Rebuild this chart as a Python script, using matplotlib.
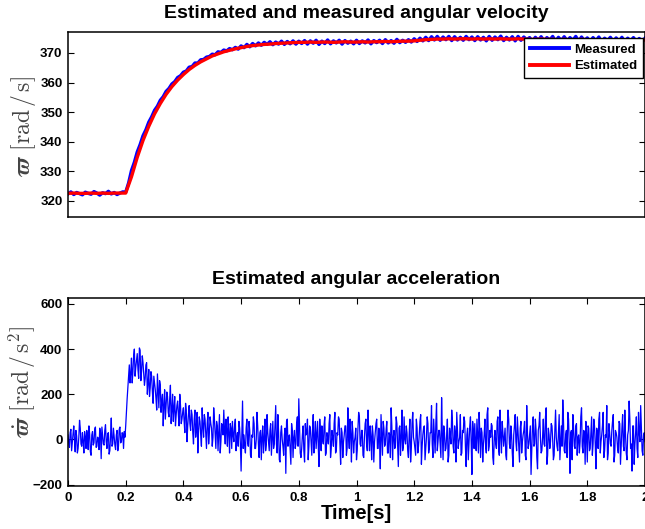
import matplotlib

matplotlib.use("Agg")
import matplotlib.pyplot as plt
import numpy as np

# measured angular velocity, sampled every 0.01 s from 0 to 2 s
vel_measured = [
    322.3, 323.0, 322.1, 322.8, 322.4, 322.0, 322.9, 322.5, 322.2, 323.1, 322.6,
    321.9, 322.7, 322.4, 323.2, 322.3, 322.8, 322.1, 322.6, 323.0, 322.9,
    326.0, 330.2, 333.0, 336.5, 339.0, 342.0, 344.0, 346.6, 348.4, 350.6,
    352.0, 354.0, 355.2, 357.0, 358.0, 359.5, 360.3, 361.7, 362.3, 363.5,
    363.9, 365.2, 365.4, 366.6, 366.6, 367.7, 367.8, 368.6, 368.8, 369.6,
    369.4, 370.4, 370.2, 371.0, 370.7, 371.5, 371.1, 371.9, 371.3, 372.4,
    371.8, 372.9, 372.1, 373.2, 372.4, 373.4, 372.6, 373.6, 372.9, 373.8,
    372.8, 373.7, 373.0, 374.0, 372.9, 373.9, 373.1, 374.1, 373.0, 374.0,
    373.2, 374.2, 373.0, 374.1, 373.3, 374.3, 372.9, 374.0, 373.2, 374.4,
    373.1, 374.1, 373.4, 374.3, 373.0, 374.2, 373.3, 374.0, 373.1, 374.3,
    373.2, 374.1, 373.4, 374.4, 373.1, 374.2, 373.5, 374.3, 373.2, 374.5,
    373.4, 374.2, 373.3, 374.6, 373.5, 374.3, 373.6, 374.5, 373.7, 374.8,
    373.9, 375.0, 374.1, 375.3, 374.2, 375.5, 374.4, 375.6, 374.3, 375.4,
    374.5, 375.6, 374.2, 375.5, 374.4, 375.3, 374.3, 375.6, 374.5, 375.4,
    374.2, 375.5, 374.4, 375.3, 374.1, 375.6, 374.3, 375.4, 374.5, 375.7,
    374.2, 375.3, 374.4, 375.5, 374.1, 375.6, 374.3, 375.4, 374.5, 375.2,
    374.0, 375.3, 374.3, 375.5, 374.1, 375.2, 374.4, 375.6, 374.0, 375.3,
    374.2, 375.5, 374.1, 375.2, 374.3, 375.6, 374.0, 375.4, 374.2, 375.1,
    373.9, 375.2, 374.1, 375.4, 373.8, 375.0, 374.2, 375.3, 373.9, 375.1,
    374.0, 375.3, 373.8, 375.0, 374.1, 375.2, 373.9, 374.9, 374.0, 375.0,
]

# estimated angular velocity, sampled every 0.02 s from 0 to 2 s
vel_estimated = [
    322.5, 322.6, 322.5, 322.5, 322.6, 322.5, 322.6, 322.5, 322.6, 322.6, 322.6,
    328.1, 334.7, 340.4, 345.2, 349.4, 352.9, 356.0, 358.6, 360.8, 362.7,
    364.4, 365.8, 367.0, 368.0, 369.0, 369.7, 370.4, 370.9, 371.4, 371.8,
    372.2, 372.5, 372.7, 372.9, 373.0, 373.2, 373.3, 373.4, 373.5, 373.6,
    373.6, 373.7, 373.6, 373.7, 373.7, 373.6, 373.7, 373.8, 373.7, 373.7,
    373.8, 373.7, 373.8, 373.8, 373.9, 373.8, 373.9, 374.0, 374.0, 374.1,
    374.3, 374.5, 374.6, 374.7, 374.7, 374.8, 374.7, 374.8, 374.8, 374.7,
    374.8, 374.7, 374.8, 374.7, 374.8, 374.7, 374.7, 374.8, 374.7, 374.6,
    374.6, 374.7, 374.6, 374.6, 374.5, 374.6, 374.5, 374.5, 374.6, 374.5,
    374.5, 374.4, 374.5, 374.4, 374.5, 374.4, 374.4, 374.5, 374.4, 374.4,
]

# estimated angular acceleration at t = 0, 0.005, ..., 2 s
accel_grid = [
    # 0 - 0.195 s
    20, -35, 45, -10, 60, -55, 15, -40, 85, -20, 30, -60, 10, 40, -45, 25, -70, 35, -15, 55,
    -30, 5, 50, -85, 20, -25, 65, -40, 30, -50, 95, -20, 15, -45, 40, -30, 55, -10, 25, 35,
    # 0.2 - 0.605 s
    60, 180, 280, 250, 360, 300, 400, 320, 380, 270, 395, 300, 340, 240, 330, 200, 310, 230, 280, 160,
    250, 180, 290, 140, 240, 170, 60, 220, 150, 190, 100, 240, 130, 80, 190, 110, 170, 60, 150, 90,
    140, 30, 130, 60, 150, 40, 110, -20, 130, 50, -60, 100, 20, 140, 10, 90, -40, 120, 30, 70,
    -30, 140, 20, 80, -50, 110, -10, 60, 130, -20, 40, 100, -60, 50, 80, -10, 90, 10, -30, 50,
    -140, 170,
    # 0.61 - 2.0 s
    20, -60, 90, -30, 40, -80, 10, 70, -40, 120, -20, 30, -90, 60, 0, -50, 110, -10, 40, -70,
    80, -20, 150, -60, 30, -100, 60, -30, 20, -150, 90, 10, -50, 70, -80, 40, -20, 100, 180, -60,
    -40, 60, -100, 20, 90, -30, 50, -70, 110, 0, -40, 80, -120, 30, 60, -20, 100, -60, 10, 70,
    -80, 40, -30, 120, -50, 20, 90, -110, 30, -10, 60, -70, 140, -40, 20, 80, -60, 10, -90, 50,
    100, -30, 40, -80, 70, -20, 130, -50, 10, 60, -100, 30, 90, -40, 0, 110, -70, 50, -20, 80,
    -60, 20, 140, -90, 40, -30, 70, -120, 60, 10, -50, 100, -20, 30, -80, 90, -40, 120, -10, -70,
    50, -30, 80, -110, 20, 60, -40, 100, -60, 30, 150, -80, 10, 70, -50, 40, -20, 185, -90, 30,
    -40, 90, -70, 20, 130, -30, 60, -100, 40, -10, 110, -60, 30, 80, -120, 50, -20, 100, -155, 40,
    70, -50, 20, 120, -80, 30, -20, 90, -60, 140, -30, 10, 60, -110, 40, -40, 100, -70, 20, 80,
    -30, 50, -90, 130, -20, 60, -60, 20, 110, -50, 30, -100, 80, -10, 40, -70, 150, -40, 20, -155,
    60, -30, 90, -80, 40, 120, -60, 10, -20, 100, -110, 50, -40, 70, 0, -70, 130, -30, 30, -90,
    60, 175, -50, 20, -80, 90, -150, 40, 110, -30, 60, -70, 20, -10, 140, -60, 30, 80, -100, 50,
    -40, 100, -20, 60, -130, 30, 90, -60, 20, 120, -50, 10, -90, 70, -20, 40, 110, -70, 30, -40,
    80, -110, 50, -30, 130, -60, 20, 170, -40, -140, 60, -20, 100, -80, 30, 150, -50, 20, -10,
]

# estimated angular acceleration at the half steps t = 0.0025, 0.0075, ..., 1.9975 s
accel_half = [
    # 0.0025 - 0.1975 s
    -15, 30, -50, 25, -5, 40, -60, 10, 50, -30, -10, 35, -40, 15, 60, -55, 20, -25, 45, -35,
    10, -45, 30, 55, -20, 40, -10, 25, -65, 15, -30, 50, -25, 20, -50, 45, -15, 30, -40, 10,
    # 0.2025 - 0.6075 s
    120, 230, 330, 290, 250, 370, 280, 350, 310, 405, 260, 370, 290, 270, 340, 250, 190, 300, 210, 280,
    220, 130, 210, 260, 120, 200, 150, 90, 210, 120, 180, 70, 200, 140, 60, 150, 110, 200, 70, 120,
    80, 160, -10, 110, 70, 130, 30, 90, 10, 120, 40, 80, -30, 60, 110, 20, 70, -20, 100, 50,
    10, 90, -40, 60, 30, -60, 70, 20, 40, 90, -30, 30, 70, -40, 20, 60, -50, 30, 80, -20,
    20, -40,
    # 0.6125 - 1.9975 s
    -30, 50, -10, 80, -70, 20, 100, -40, 0, 60, -80, 40, 10, -60, 90, -20, 30, -50, 70, 0,
    -40, 60, -20, 110, -90, 30, 0, -70, 50, 80, -30, 20, -110, 40, 10, -40, 70, -30, 50, -80,
    20, -50, 70, 30, -90, 60, -10, 40, -60, 80, 20, -30, 90, -50, 0, 60, -70, 30, -20, 110,
    -40, 10, 70, -60, 30, 100, -20, 50, -80, 20, 60, -40, 10, 90, -100, 30, -10, 50, -50, 120,
    -20, 40, -70, 10, 90, -50, 30, 60, -90, 20, -10, 70, -40, 50, -130, 20, 80, -30, 40, -60,
    30, -80, 60, 10, -40, 100, -20, 50, -70, 130, -30, 0, 60, -50, 20, -100, 70, 10, -40, 90,
    -60, 20, 110, -30, 50, -90, 10, 70, -40, 30, -20, 90, -60, 160, -10, 40, -80, 30, 60, -50,
    20, -100, 50, -20, 80, -60, 30, 120, -40, 10, -70, 40, 100, -30, 20, -90, 60, -10, 80, -40,
    -20, 90, -60, 30, 50, -100, 20, -30, 110, -50, 40, 70, -80, 10, -20, 80, -40, 130, -60, 30,
    10, -70, 40, 90, -40, 20, -120, 60, -10, 100, -30, 50, -60, 20, 80, -90, 30, -20, 60, -40,
    100, -20, 40, -130, 60, 10, -50, 90, -30, 140, -70, 20, -10, 60, -90, 40, 10, -50, 110, -20,
    -30, 80, -60, 40, 120, -20, 30, -90, 50, -40, 70, 10, -60, 100, -30, 40, -110, 20, 60, -50,
    30, -70, 90, -20, 50, -40, 120, -10, 60, -80, 20, 150, -60, 30, -30, 80, -100, 40, 10, -60,
    70, -30, 110, -50, 20, -90, 40, 90, -20, 60, -110, 30, -40, 120, -10, 50, -70, 30,
]

x_ticks = [0, 0.2, 0.4, 0.6, 0.8, 1, 1.2, 1.4, 1.6, 1.8, 2]
x_tick_labels = ["0", "0.2", "0.4", "0.6", "0.8", "1", "1.2", "1.4", "1.6", "1.8", "2"]
vel_ticks = [320, 330, 340, 350, 360, 370]
acc_ticks = [-200, 0, 200, 400, 600]
acc_tick_labels = ["\u2212200", "0", "200", "400", "600"]

plt.rcParams.update({
    "font.family": ["Liberation Sans", "DejaVu Sans"],
    "font.weight": "bold",
    "mathtext.fontset": "cm",
    "axes.linewidth": 1.1,
    "xtick.direction": "in",
    "ytick.direction": "in",
    "xtick.major.size": 4,
    "ytick.major.size": 4,
    "xtick.major.width": 0.8,
    "ytick.major.width": 0.8,
})


def style_axes(ax):
    ax.tick_params(labelsize=9.5, top=True, right=True, pad=4)
    for lab in ax.get_xticklabels() + ax.get_yticklabels():
        lab.set_fontweight("bold")


fig = plt.figure(figsize=(6.45, 5.29), dpi=100)

ax1 = fig.add_axes([68 / 645, 1 - 217 / 529, 1 - 68 / 645, 185 / 529])
t_meas = np.linspace(0, 2, len(vel_measured))
t_est = np.linspace(0, 2, len(vel_estimated))
ax1.plot(t_meas, vel_measured, color="#0000ff", lw=2.4, label="Measured")
ax1.plot(t_est, vel_estimated, color="#ff0000", lw=2.4, label="Estimated")
ax1.set_xlim(0, 2)
ax1.set_ylim(314.5, 377.1)
ax1.set_xticks([])
ax1.set_yticks(vel_ticks)
ax1.set_title("Estimated and measured angular velocity", fontsize=14, fontweight="bold", pad=10)
ax1.set_ylabel(r"$\varpi\ [\mathrm{rad}\,/\,\mathrm{s}]$", fontsize=17, color="#444444")
ax1.yaxis.set_label_coords(-0.052, 0.49)
style_axes(ax1)
leg = ax1.legend(loc="upper right", bbox_to_anchor=(0.9965, 0.968), borderaxespad=0,
                 fancybox=False, edgecolor="black", framealpha=1, handlelength=2.9,
                 handletextpad=0.4, borderpad=0.45, labelspacing=0.3,
                 prop={"weight": "bold", "size": 9.5})
leg.get_frame().set_linewidth(1.0)
for line in leg.get_lines():
    line.set_linewidth(2.8)

ax2 = fig.add_axes([68 / 645, 1 - 486 / 529, 1 - 68 / 645, 188 / 529])
accel = np.empty(len(accel_grid) + len(accel_half))
accel[0::2] = accel_grid
accel[1::2] = accel_half
t_acc = np.linspace(0, 2, len(accel))
ax2.plot(t_acc, accel, color="#0000ff", lw=0.9)
ax2.set_xlim(0, 2)
ax2.set_ylim(-206, 626)
ax2.set_xticks(x_ticks)
ax2.set_xticklabels(x_tick_labels)
ax2.set_yticks(acc_ticks)
ax2.set_yticklabels(acc_tick_labels)
ax2.set_title("Estimated angular acceleration", fontsize=14, fontweight="bold", pad=10)
ax2.set_ylabel(r"$\dot{\varpi}\ [\mathrm{rad}\,/\,\mathrm{s}^2]$", fontsize=17, color="#444444")
ax2.yaxis.set_label_coords(-0.052, 0.55)
ax2.set_xlabel("Time[s]", fontsize=14.5, fontweight="bold", labelpad=0)
style_axes(ax2)

fig.savefig("out.png", dpi=100)
